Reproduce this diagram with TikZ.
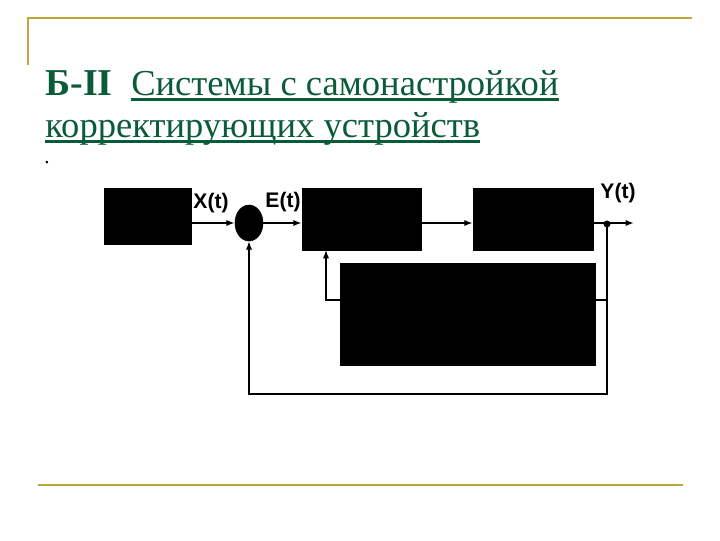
\documentclass[tikz,border=0pt]{standalone}
\usepackage{fontspec}
\setmainfont{Liberation Serif}
\setsansfont{Liberation Sans}
\usepackage{tikz}
\usetikzlibrary{arrows.meta, shapes.geometric}

\definecolor{framegold}{RGB}{190,165,55}
\definecolor{titlegreen}{RGB}{10,92,56}

\begin{document}
\begin{tikzpicture}[x=0.025cm, y=-0.025cm,
		blk/.style={rectangle, fill=black, draw=black, inner sep=0pt},
		sig/.style={-{Latex[length=6pt,width=4.5pt]}, line width=1.3pt},
		wire/.style={line width=1pt},
		lbl/.style={font=\sffamily\bfseries\fontsize{15}{17}\selectfont},
		ttl/.style={anchor=base west, inner sep=0pt, text=titlegreen, font=\fontsize{26}{30}\selectfont},
		uline/.style={titlegreen, line width=2pt}]
		
		\useasboundingbox (0,0) rectangle (720,540);
		
		% frame lines
		\draw[framegold, line width=1.6pt] (28,65) -- (28,18) -- (692,18);
		\draw[framegold, line width=1.6pt] (38,485) -- (683,485);
		
		% title
		\node[ttl, font=\bfseries\fontsize{27}{30}\selectfont] (tB) at (45,95) {Б-II};
		\node[ttl] (t1) at (131,95) {Системы с самонастройкой};
		\node[ttl] (t2) at (45,137) {корректирующих устройств};
		\draw[uline] ([yshift=-3pt]t1.base west) -- ([yshift=-3pt]t1.base east);
		\draw[uline] ([yshift=-3pt]t2.base west) -- ([yshift=-3pt]t2.base east);
		\node[ttl, text=black, font=\fontsize{15}{16}\selectfont] (dot) at (44,163) {.};
		
		% blocks
		\node[blk, minimum width=2.175cm, minimum height=1.4cm] (b1) at (147.5,216) {};
		\node[blk, ellipse, minimum width=0.7cm, minimum height=0.9cm] (sum) at (249,223) {};
		\node[blk, minimum width=2.975cm, minimum height=1.55cm] (b2) at (361.5,219) {};
		\node[blk, minimum width=3cm, minimum height=1.55cm] (b3) at (533,219) {};
		\node[blk, minimum width=6.375cm, minimum height=2.55cm] (b4) at (467.5,314) {};
		
		% auxiliary points
		\coordinate (tap) at (607,223);
		\coordinate (out) at (634,223);
		\coordinate (fb) at (607,394);
		\coordinate (adjR) at (595,300);
		\coordinate (adjL) at (340,300);
		\coordinate (adjIn) at (326,250);
		
		% forward path
		\draw[sig] (sum.west -| b1.east) -- (sum.west);
		\draw[sig] (sum.east) -- (sum.east -| b2.west);
		\draw[sig] (b2.east |- sum) -- (b3.west |- sum);
		\draw[sig] (b3.east |- sum) -- (out);
		\fill (tap) ++(0,1) circle (3.5);
		
		% feedback and adjustment
		\draw[sig, line width=1pt] (tap) |- (fb -| sum.south) -- (sum.south);
		\draw[wire, line width=1.3pt] (adjR) -- (adjR -| tap);
		\draw[sig, line width=1pt] (adjL) -| (adjIn);
		
		% signal labels
		\node[lbl] (lx) at (211,203) {X(t)};
		\node[lbl] (le) at (283,202) {E(t)};
		\node[lbl] (ly) at (618,193) {Y(t)};
		
	\end{tikzpicture}
\end{document}
